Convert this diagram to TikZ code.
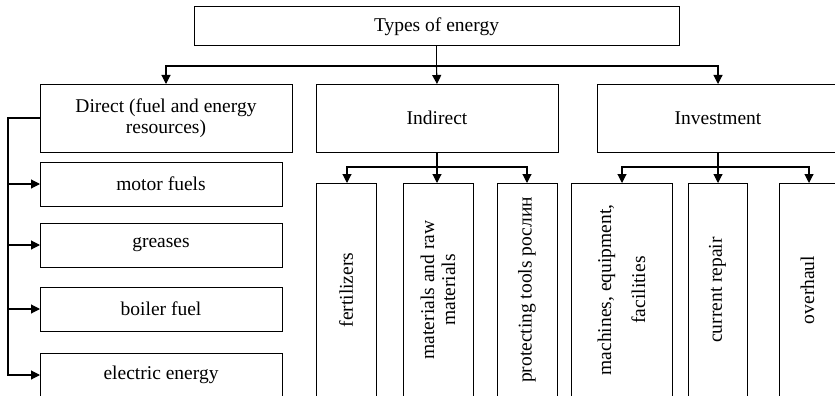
\documentclass[tikz,border=0pt]{standalone}
\usepackage{fontspec}
\setmainfont{Liberation Serif}
\usetikzlibrary{arrows.meta}
\begin{document}
\begin{tikzpicture}[x=1pt,y=-1pt,
  box/.style={draw, line width=1pt, rectangle, inner sep=0pt, outer sep=0pt, align=center,
    font=\fontsize{19.5}{21}\selectfont},
  vbox/.style={box, rotate=90, minimum width=214pt},
  conn/.style={line width=1.1pt},
  arr/.style={conn, -{Triangle[length=9pt,width=9pt]}}]
\useasboundingbox (0,0) rectangle (835,396);
% level 1
\node[box, minimum width=485pt, minimum height=39pt] (top) at (436.5,26.5) {Types of energy};
% level 2
\node[box, minimum width=252pt, minimum height=68pt] (direct) at (166,118) {Direct (fuel and energy\\resources)};
\node[box, minimum width=242pt, minimum height=68pt] (indirect) at (437,118) {Indirect};
\node[box, minimum width=242pt, minimum height=68pt] (invest) at (718,118) {Investment};
% direct children
\node[box, minimum width=242pt, minimum height=44pt] (motor) at (161,184) {motor fuels};
\node[box, minimum width=242pt, minimum height=44pt] (greases) at (161,245) {greases};
\node[box, minimum width=242pt, minimum height=44pt] (boiler) at (161,309) {boiler fuel};
\node[box, minimum width=242pt, minimum height=44pt] (electric) at (161,375) {electric energy};
% indirect children
\node[vbox, minimum height=60pt] (fert) at (346,290) {fertilizers};
\node[vbox, minimum height=70pt] (mater) at (438,290) {materials and raw\\materials};
\node[vbox, minimum height=60pt] (prot) at (527,290) {protecting tools рослин};
% investment children
\node[vbox, minimum height=101pt] (mach) at (621.5,290) {machines, equipment,\\[13pt]facilities};
\node[vbox, minimum height=59pt] (repair) at (717.5,290) {current repair};
\node[vbox, minimum height=57pt] (overhaul) at (807.5,290) {overhaul};
% connectors level 1 -> 2
\draw[conn] (top.south) -- ++(0,20) coordinate (bus1);
\draw[arr] (bus1) -| (direct.north);
\draw[arr] (bus1) -- (indirect.north);
\draw[arr] (bus1) -| (invest.north);
% direct -> children
\draw[arr] (direct.west) -- ++(-32,0) coordinate (dl) |- (electric.west);
\draw[arr] (dl |- motor.west) -- (motor.west);
\draw[arr] (dl |- greases.west) -- (greases.west);
\draw[arr] (dl |- boiler.west) -- (boiler.west);
% indirect -> children
\draw[conn] (indirect.south) -- ++(0,15) coordinate (bus2);
\draw[arr] (bus2) -| ([xshift=1pt]fert.east);
\draw[arr] (bus2) -- (bus2 |- mater.east);
\draw[arr] (bus2) -| (prot.east);
% investment -> children
\draw[conn] (invest.south) -- ++(0,15) coordinate (bus3);
\draw[arr] (bus3) -| ([xshift=0.5pt]mach.east);
\draw[arr] (bus3) -- (bus3 |- repair.east);
\draw[arr] (bus3) -| ([xshift=1.5pt]overhaul.east);
\end{tikzpicture}
\end{document}
